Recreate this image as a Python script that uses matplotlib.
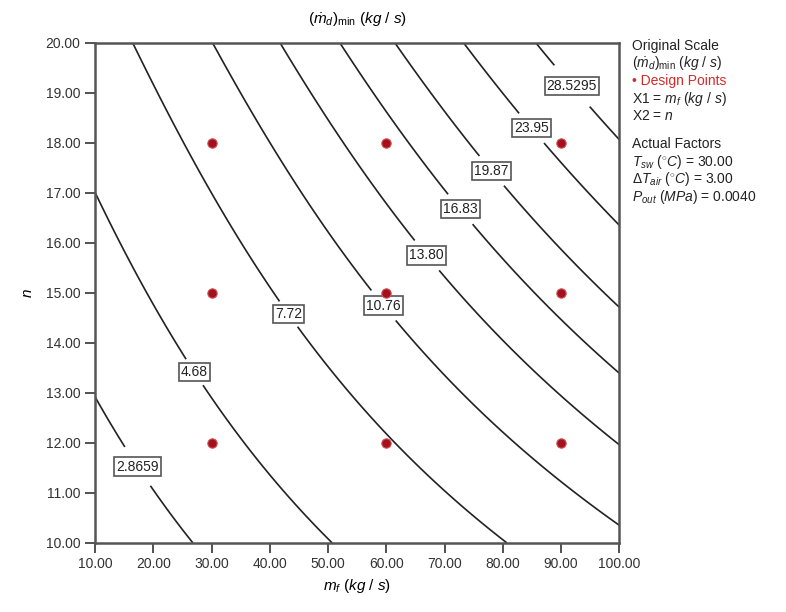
import numpy as np
import matplotlib
matplotlib.use("Agg")
import matplotlib.pyplot as plt

plt.rcParams['font.family'] = ['Liberation Sans', 'DejaVu Sans']
plt.rcParams['mathtext.fontset'] = 'custom'
plt.rcParams['mathtext.it'] = 'Liberation Sans:italic'
plt.rcParams['mathtext.rm'] = 'Liberation Sans'

# contour levels and their labels
levels = [2.8659, 4.68, 7.72, 10.76, 13.80, 16.83, 19.87, 23.95, 28.5295]
level_text = ['2.8659', '4.68', '7.72', '10.76', '13.80', '16.83', '19.87', '23.95', '28.5295']

# points: (m_f, n, value)
pts_mf = [10, 17.7, 26.3,
          10, 18.9, 27.7, 38.3, 51.2,
          16.9, 24.5, 38.0, 43.5, 60.2, 80.4,
          30.1, 39.2, 60.7, 70.5, 89.9, 100,
          41.8, 53.3, 67.5, 81.8, 89.9, 100,
          52.1, 62.0, 73.2, 83.0, 100,
          61.7, 78.7, 94.5, 100,
          73.1, 85.2, 100,
          85.1, 92.1, 100]
pts_n = [12.8, 11.56, 10,
         17.06, 15.0, 13.46, 11.62, 10,
         20, 18, 15.26, 14.6, 12, 10,
         20, 18, 14.86, 13.26, 11.26, 10.4,
         20, 18, 15.8, 13.72, 12.8, 12.0,
         20, 18, 16.72, 15.26, 13.42,
         20, 17.5, 15.26, 14.72,
         20, 18.32, 16.36,
         20, 19.16, 18.0]
pts_val = [2.8659] * 3 + [4.68] * 5 + [7.72] * 6 + [10.76] * 6 + [13.80] * 6 + \
          [16.83] * 5 + [19.87] * 4 + [23.95] * 3 + [28.5295] * 3

# design points
design_mf = [30, 60, 90, 30, 60, 90, 30, 60, 90]
design_n = [12, 12, 12, 15, 15, 15, 18, 18, 18]

# label spots (m_f, n)
label_pos = [(17.7, 11.56), (27.7, 13.46), (43.5, 14.6), (60.7, 14.86), (67.5, 15.8),
             (73.2, 16.72), (78.7, 17.5), (85.2, 18.32), (92.1, 19.16)]


def terms(x, y):
    u = (x - 55) / 45
    v = (y - 15) / 5
    return [np.ones_like(u), u, v, u * v, u ** 2, v ** 2,
            u ** 3, u ** 2 * v, u * v ** 2, v ** 3]


# response surface (log scale) fitted to the read points
X = np.array(pts_mf, dtype=float)
Y = np.array(pts_n, dtype=float)
A = np.column_stack(terms(X, Y))
coef, *_ = np.linalg.lstsq(A, np.log(pts_val), rcond=None)

gx, gy = np.meshgrid(np.linspace(10, 100, 300), np.linspace(10, 20, 300))
gz = np.exp(sum(c * t for c, t in zip(coef, terms(gx, gy))))

fig = plt.figure(figsize=(7.86, 6.12), dpi=100)
ax = fig.add_axes([0.121, 0.113, 0.667, 0.817])

cs = ax.contour(gx, gy, gz, levels=levels, colors='#222222', linewidths=1.2)
fmt = dict(zip(cs.levels, level_text))
texts = ax.clabel(cs, fmt=fmt, manual=label_pos, inline=True, fontsize=10, inline_spacing=2)
for t in texts:
    t.set_rotation(0)
    t.set_bbox(dict(boxstyle='square,pad=0.15', fc='white', ec='#555555', lw=1.2))

ax.scatter(design_mf, design_n, s=45, c='#a3101e', edgecolors='#d05050', linewidths=0.8, zorder=5)

ax.set_xlim(10, 100)
ax.set_ylim(10, 20)
ax.set_xticks(np.arange(10, 101, 10))
ax.set_yticks(np.arange(10, 21, 1))
ax.xaxis.set_major_formatter(matplotlib.ticker.FormatStrFormatter('%.2f'))
ax.yaxis.set_major_formatter(matplotlib.ticker.FormatStrFormatter('%.2f'))
ax.tick_params(direction='out', length=7, width=1.2, labelsize=10, colors='#333333')
for s in ax.spines.values():
    s.set_linewidth(1.8)
    s.set_color('#555555')

ax.set_xlabel(r'$m_f\ (kg\ /\ s)$', fontsize=11, labelpad=4)
ax.set_ylabel(r'$n$', fontsize=11, labelpad=8)
ax.set_title(r'$(\dot{m}_d)_{\mathrm{min}}\ (kg\ /\ s)$', fontsize=11, pad=14)

# side panel
x0 = 0.804
lines = [
    (0.925, 'Original Scale', '#222222'),
    (0.897, r'$(\dot{m}_d)_{\mathrm{min}}\ (kg\ /\ s)$', '#222222'),
    (0.868, '\u2022 Design Points', '#d42a2a'),
    (0.839, r'X1 = $m_f\ (kg\ /\ s)$', '#222222'),
    (0.810, r'X2 = $n$', '#222222'),
    (0.765, 'Actual Factors', '#222222'),
    (0.736, r'$T_{sw}\ (^{\circ}C)$ = 30.00', '#222222'),
    (0.707, r'$\Delta T_{air}\ (^{\circ}C)$ = 3.00', '#222222'),
    (0.678, r'$P_{out}\ (MPa)$ = 0.0040', '#222222'),
]
for y, s, c in lines:
    fig.text(x0, y, s, fontsize=10, color=c, va='center', ha='left')

fig.savefig('out.png', dpi=100)
